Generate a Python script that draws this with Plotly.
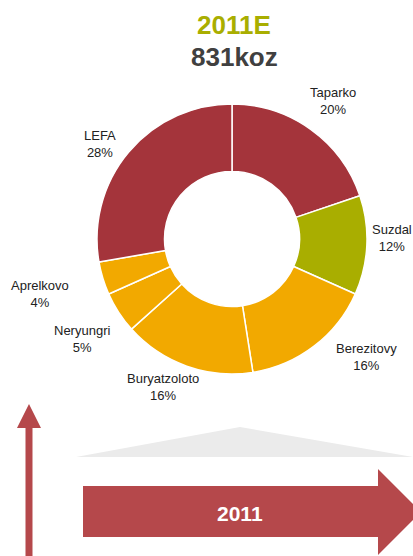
"""Donut de produção 2011E por mina, com setas de decoração."""

import plotly.graph_objects as go

W, H = 413, 556

mines = ["Taparko", "Suzdal", "Berezitovy", "Buryatzoloto", "Neryungri", "Aprelkovo", "LEFA"]
shares = [20, 12, 16, 16, 5, 4, 28]
title_year = "2011E"
title_total = "831koz"
arrow_label = "2011"

_RED = "#a4343b"
_OLIVE = "#a9ae00"
_ORANGE = "#f2a900"
_MINE_COLORS = {
    "Taparko": _RED,
    "Suzdal": _OLIVE,
    "Berezitovy": _ORANGE,
    "Buryatzoloto": _ORANGE,
    "Neryungri": _ORANGE,
    "Aprelkovo": _ORANGE,
    "LEFA": _RED,
}
# posição dos rótulos (px, canto superior esquerdo)
_LABEL_POS = {
    "Taparko": (333, 101),
    "Suzdal": (392, 238),
    "Berezitovy": (366, 357),
    "Buryatzoloto": (163, 387),
    "Neryungri": (82, 339),
    "Aprelkovo": (40, 294),
    "LEFA": (100, 144),
}
_FONT = "Liberation Sans, Arial, sans-serif"


def px(x):
    return x / W


def py(y):
    return 1 - y / H


def path(points):
    return "M " + " L ".join(f"{px(x):.5f},{py(y):.5f}" for x, y in points) + " Z"


cx, cy, r = 232, 239, 135

fig = go.Figure(go.Pie(
    labels=mines,
    values=shares,
    hole=0.5,
    sort=False,
    direction="clockwise",
    rotation=0,
    textinfo="none",
    marker=dict(colors=[_MINE_COLORS[m] for m in mines], line=dict(color="white", width=1.5)),
    domain=dict(x=[px(cx - r), px(cx + r)], y=[py(cy + r), py(cy - r)]),
    showlegend=False,
    hovertemplate="<b>%{label}</b><br>%{value}%<extra></extra>",
))

annotations = [
    dict(x=px(234), y=py(25), text=f"<b>{title_year}</b>",
         font=dict(size=26, color=_OLIVE, family=_FONT)),
    dict(x=px(234), y=py(57), text=f"<b>{title_total}</b>",
         font=dict(size=26, color="#404040", family=_FONT)),
    dict(x=px(240), y=py(513), text=f"<b>{arrow_label}</b>",
         font=dict(size=21, color="white", family=_FONT)),
]
for mine, share in zip(mines, shares):
    lx, ly = _LABEL_POS[mine]
    annotations.append(dict(
        x=px(lx), y=py(ly), text=f"{mine}<br>{share}%",
        font=dict(size=13, color="#222222", family=_FONT),
    ))
for a in annotations:
    a.update(xref="paper", yref="paper", showarrow=False, xanchor="center", yanchor="middle")

shapes = [
    # triângulo cinza
    dict(type="path", path=path([(76, 457), (240, 427), (413, 457)]),
         fillcolor="#ebebeb", line=dict(width=0)),
    # seta vertical
    dict(type="path", path=path([(25.5, 560), (25.5, 428), (17, 428), (29, 404),
                                 (41, 428), (32.5, 428), (32.5, 560)]),
         fillcolor="#b5484b", line=dict(width=0)),
    # seta horizontal
    dict(type="path", path=path([(83, 486), (378, 486), (378, 469), (421, 512),
                                 (378, 555), (378, 537), (83, 537)]),
         fillcolor="#b5484b", line=dict(width=0)),
]
for s in shapes:
    s.update(xref="paper", yref="paper", layer="below")

fig.update_layout(
    width=W,
    height=H,
    paper_bgcolor="white",
    plot_bgcolor="white",
    margin=dict(l=0, r=0, t=0, b=0),
    font=dict(family=_FONT),
    annotations=annotations,
    shapes=shapes,
)

fig.write_html(
    "out.html",
    config={"displayModeBar": False},
    post_script="document.body.style.margin='0';document.body.style.overflow='hidden';",
)
